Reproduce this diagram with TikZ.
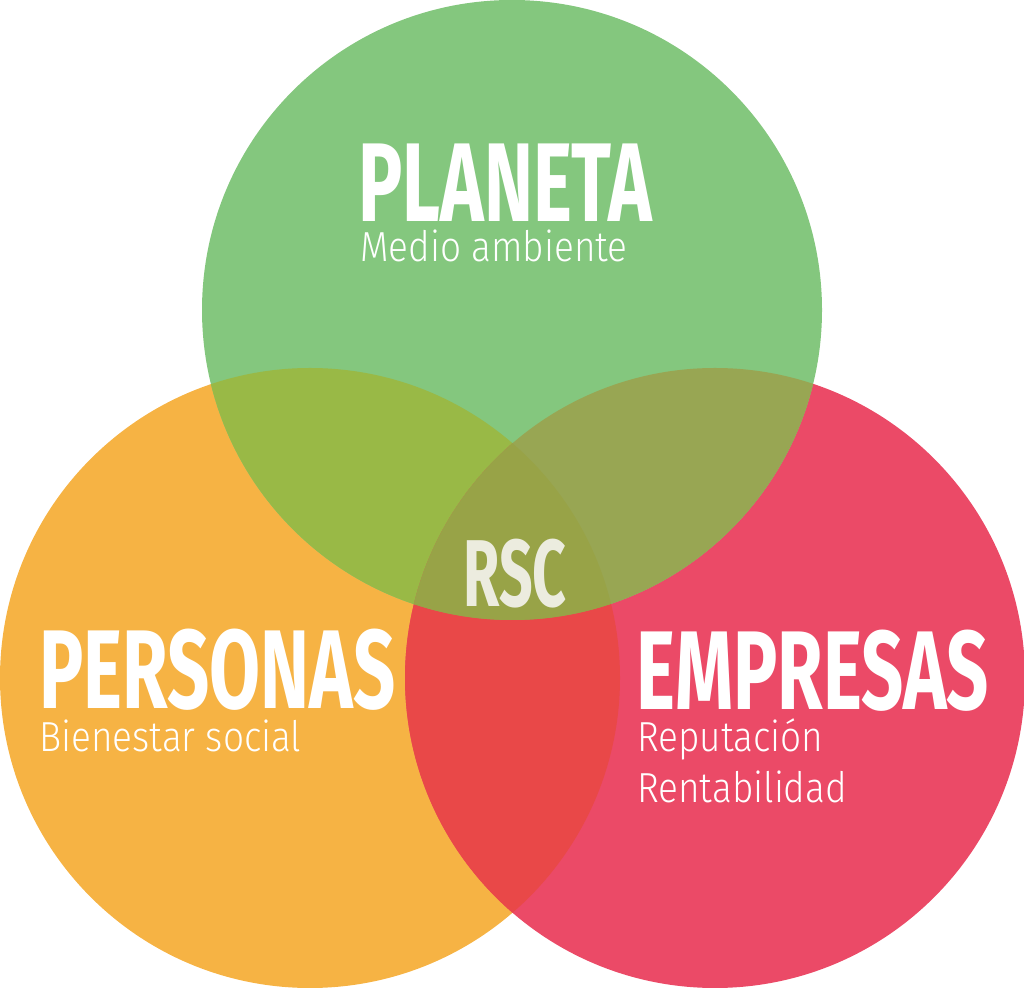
\documentclass[tikz,border=0pt]{standalone}
\usepackage{fontspec}
\setmainfont{Fira Sans}
\newfontfamily\headfont{Fira Sans}[UprightFont={* Bold}, FakeStretch=0.66]
\newfontfamily\rscfont{Fira Sans}[UprightFont={* Bold}, FakeStretch=0.62]
\newfontfamily\subfont{Fira Sans}[UprightFont={* Light}, FakeStretch=0.88]
\usetikzlibrary{positioning}

\definecolor{planetac}{HTML}{84C77E}
\definecolor{personasc}{HTML}{F6B344}
\definecolor{empresasc}{HTML}{EB4A67}
\definecolor{pergreen}{HTML}{99B946}
\definecolor{empgreen}{HTML}{98A653}
\definecolor{perempc}{HTML}{E94848}
\definecolor{rscc}{HTML}{98A347}
\definecolor{rsctext}{HTML}{ECECDF}

\begin{document}
\begin{tikzpicture}[
    x=1pt, y=1pt,
    head/.style={anchor=base west, inner sep=0pt, text=white,
                 font=\headfont\fontsize{112}{112}\selectfont},
    sub/.style={anchor=base west, inner sep=0pt, text=white,
                font=\subfont\fontsize{42}{42}\selectfont}
  ]
  \useasboundingbox (0,0) rectangle (1024,987);
  \def\rad{310pt}
  \coordinate (cPla) at (512,677);
  \coordinate (cPer) at (310,309);
  \coordinate (cEmp) at (715,309);

  % the three circles
  \fill[personasc] (cPer) circle (\rad);
  \fill[empresasc] (cEmp) circle (\rad);
  \fill[planetac] (cPla) circle (\rad);

  % overlaps
  \begin{scope}
    \clip (cPer) circle (\rad);
    \fill[pergreen] (cPla) circle (\rad);
    \fill[perempc] (cEmp) circle (\rad);
  \end{scope}
  \begin{scope}
    \clip (cEmp) circle (\rad);
    \fill[empgreen] (cPla) circle (\rad);
  \end{scope}
  \begin{scope}
    \clip (cPer) circle (\rad);
    \clip (cEmp) circle (\rad);
    \fill[rscc] (cPla) circle (\rad);
  \end{scope}

  % labels
  \node[head] (planeta) at (358,765) {PLANETA};
  \node[sub] (medio) at (360,725) {Medio ambiente};
  \node[head] (personas) at (39,278) {PERSONAS};
  \node[sub] (bienestar) at (39,235) {Bienestar social};
  \node[head] (empresas) at (636,277) {EMPRESAS};
  \node[sub] (reputacion) at (637,235) {Reputación};
  \node[sub] (rentab) at (637,184) {Rentabilidad};
  \node[head, text=rsctext, font=\rscfont\fontsize{95}{95}\selectfont]
    (rsc) at (463,380) {RSC};
\end{tikzpicture}
\end{document}
